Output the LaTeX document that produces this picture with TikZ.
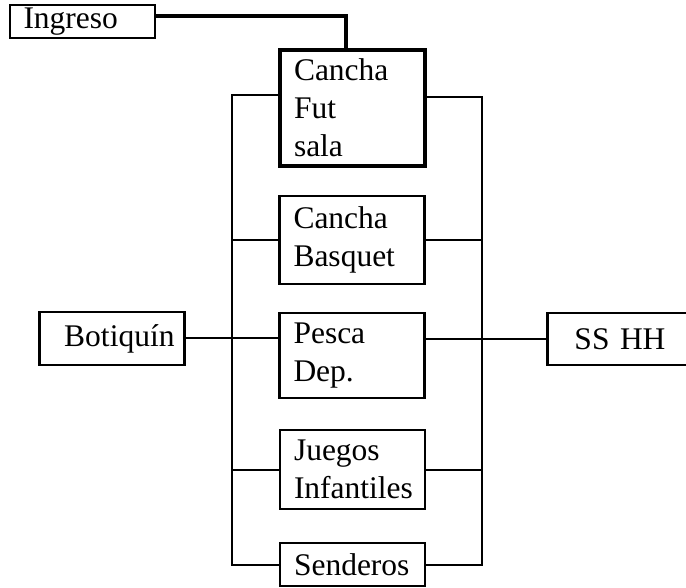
\documentclass[tikz,border=0pt]{standalone}
\usepackage{fontspec}
\setmainfont{Liberation Serif}
\usepackage{tikz}

\begin{document}
\begin{tikzpicture}[x=1pt, y=-1pt,
		area/.style={draw, line width=2.6pt, rectangle, text width=117pt, inner xsep=14pt, inner ysep=2pt, align=left, font=\fontsize{31.5}{38}\selectfont},
		wire/.style={line width=2pt}]
			\useasboundingbox (0, 0) rectangle (686, 588);
			
			% Areas
			\node[area, line width=2pt, minimum height=33pt] (ingreso) at (82, 21.5) {Ingreso};
			\node[area, line width=3.6pt, minimum height=116pt] (futsala) at (352.5, 108) {Cancha\\Fut\\sala};
			\node[area, minimum height=88pt] (basquet) at (352, 240) {Cancha\\Basquet};
			\node[area, minimum height=85pt] (pesca) at (352, 355.5) {Pesca\\Dep.};
			\node[area, minimum height=79pt] (juegos) at (352.5, 469.5) {Juegos\\Infantiles};
			\node[area, line width=2pt, minimum height=43pt] (senderos) at (352.5, 564.5) {Senderos};
			\node[area, minimum height=53pt, align=right, inner xsep=10pt, text width=125pt] (botiquin) at (112, 338.5) {Botiqu\'{\i}n};
			\node[area, line width=2.2pt, minimum height=52pt, align=center] (sshh) at (620, 339) {SS HH};
			
			% Buses
			\coordinate (lt) at (232, 95);
			\coordinate (rt) at (481.5, 97);
			\coordinate (knee) at (346, 16);
			
			% Connections
			\draw[line width=3.3pt] (ingreso.east |- knee) -- (knee) -- (knee |- futsala.north);
			\draw[wire] (futsala.west |- lt) -- (lt) -- (lt |- senderos.west) -- (senderos.west);
			\draw[wire] (futsala.east |- rt) -- (rt) -- (rt |- senderos.east) -- (senderos.east);
			\draw[wire] (basquet.west) -- (basquet.west -| lt);
			\draw[wire] (basquet.east) -- (basquet.east -| rt);
			\draw[wire] (botiquin.east) -- (botiquin.east -| pesca.west);
			\draw[wire] (sshh.west) -- (sshh.west -| pesca.east);
			\draw[wire] (juegos.west) -- (juegos.west -| lt);
			\draw[wire] (juegos.east) -- (juegos.east -| rt);
		\end{tikzpicture}
\end{document}
